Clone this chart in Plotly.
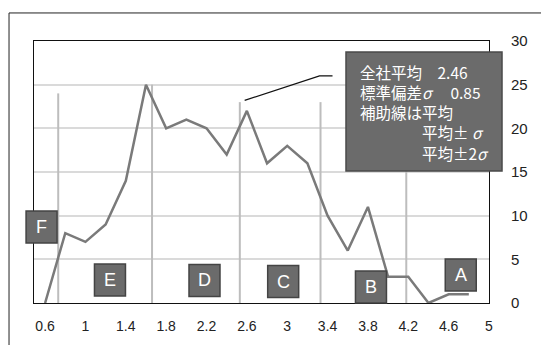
import plotly.graph_objects as go

# ---- data ----
x_vals = [0.6, 0.8, 1.0, 1.2, 1.4, 1.6, 1.8, 2.0, 2.2, 2.4, 2.6, 2.8, 3.0,
          3.2, 3.4, 3.6, 3.8, 4.0, 4.2, 4.4, 4.6, 4.8]
y_vals = [0, 8, 7, 9, 14, 25, 20, 21, 20, 17, 22, 16, 18,
          16, 10, 6, 11, 3, 3, 0, 1, 1]
x_ticks = [0.6, 1, 1.4, 1.8, 2.2, 2.6, 3, 3.4, 3.8, 4.2, 4.6, 5]
y_ticks = [0, 5, 10, 15, 20, 25, 30]

# guide lines (mean ±σ, ±2σ) positions and heights
guide_x = [0.73, 1.66, 2.53, 3.33, 4.18]
guide_top = [24, 25, 23, 23, 23]

# rank labels
rank_labels = ["F", "E", "D", "C", "B", "A"]
rank_x = [0.565, 1.243, 2.18, 2.96, 3.83, 4.72]
rank_y = [8.7, 2.63, 2.58, 2.46, 1.83, 3.2]

# callout leader line points
callout_x = [2.578, 3.32, 3.449]
callout_y = [23.2, 26.0, 26.0]

mean_val = "2.46"
sigma_val = "0.85"

X_RANGE = [0.49, 5.0]

fig = go.Figure()

# guide lines
for gx, gt in zip(guide_x, guide_top):
    fig.add_trace(go.Scatter(x=[gx, gx], y=[0, gt], mode="lines",
                             line=dict(color="#bdbdbd", width=2),
                             hoverinfo="skip", showlegend=False))

# main line
fig.add_trace(go.Scatter(x=x_vals, y=y_vals, mode="lines",
                         line=dict(color="#7a7a7a", width=2.5),
                         showlegend=False, cliponaxis=False))

# callout leader
fig.add_trace(go.Scatter(x=callout_x, y=callout_y, mode="lines",
                         line=dict(color="#111111", width=1.3),
                         showlegend=False, hoverinfo="skip", cliponaxis=False))

shapes = []
annotations = []

# outer frame
shapes.append(dict(type="rect", xref="paper", yref="paper",
                   x0=-0.0549, x1=1.6, y0=-0.6, y1=1.107,
                   line=dict(color="#222222", width=1), fillcolor="rgba(0,0,0,0)",
                   layer="below"))


def to_paper_x(v):
    return (v - X_RANGE[0]) / (X_RANGE[1] - X_RANGE[0])


def to_paper_y(v):
    return v / 30.0


# rank boxes
for lab, rx, ry in zip(rank_labels, rank_x, rank_y):
    px, py = to_paper_x(rx), to_paper_y(ry)
    shapes.append(dict(type="rect", xref="paper", yref="paper",
                       xsizemode="pixel", ysizemode="pixel",
                       xanchor=px, yanchor=py,
                       x0=-15.5, x1=15.5, y0=-16, y1=16,
                       fillcolor="#6b6b6b", line=dict(color="#444444", width=1.5),
                       layer="above"))
    annotations.append(dict(x=px, y=py, xref="paper", yref="paper", text=lab,
                            showarrow=False, xanchor="center", yanchor="middle",
                            font=dict(family="Liberation Sans, Arial", size=18,
                                      color="white")))

# info box
shapes.append(dict(type="rect", xref="paper", yref="paper",
                   x0=0.6857, x1=1.0286, y0=0.504, y1=0.958,
                   fillcolor="#6b6b6b", line=dict(color="#4a4a4a", width=1.5),
                   layer="above"))

cjk = "Noto Sans CJK JP"
info_text = "<br>".join([
    "全社平均　" + mean_val,
    "標準偏差<i>σ</i>　 " + sigma_val,
    "補助線は平均",
    "　　　　平均± <i>σ</i>",
    "　　　　平均±2<i>σ</i>",
])
annotations.append(dict(x=(358 - 34) / 455, y=(303 - 112.5) / 262,
                        xref="paper", yref="paper", xanchor="left",
                        yanchor="middle", align="left", text=info_text,
                        showarrow=False,
                        font=dict(family=cjk + ", Liberation Sans", size=15.5,
                                  color="white")))

fig.update_layout(
    width=541, height=345,
    margin=dict(l=34, r=52, t=41, b=42),
    paper_bgcolor="white", plot_bgcolor="white",
    shapes=shapes, annotations=annotations,
    xaxis=dict(range=X_RANGE, tickmode="array", tickvals=x_ticks,
               ticktext=[str(t) for t in x_ticks], showgrid=False,
               zeroline=False, showline=True, linecolor="#111111", linewidth=1,
               mirror=True, ticks="", ticklabelstandoff=10,
               tickfont=dict(family="Liberation Sans, Arial", size=14,
                             color="#222222")),
    yaxis=dict(range=[0, 30], side="right", tickmode="array", tickvals=y_ticks,
               showgrid=True, gridcolor="#dadada", gridwidth=1.5,
               zeroline=False, showline=True, linecolor="#111111", linewidth=1,
               mirror=True, ticks="", ticklabelstandoff=18,
               tickfont=dict(family="Liberation Sans, Arial", size=15,
                             color="#222222")),
)

fig.write_html("out.html")
